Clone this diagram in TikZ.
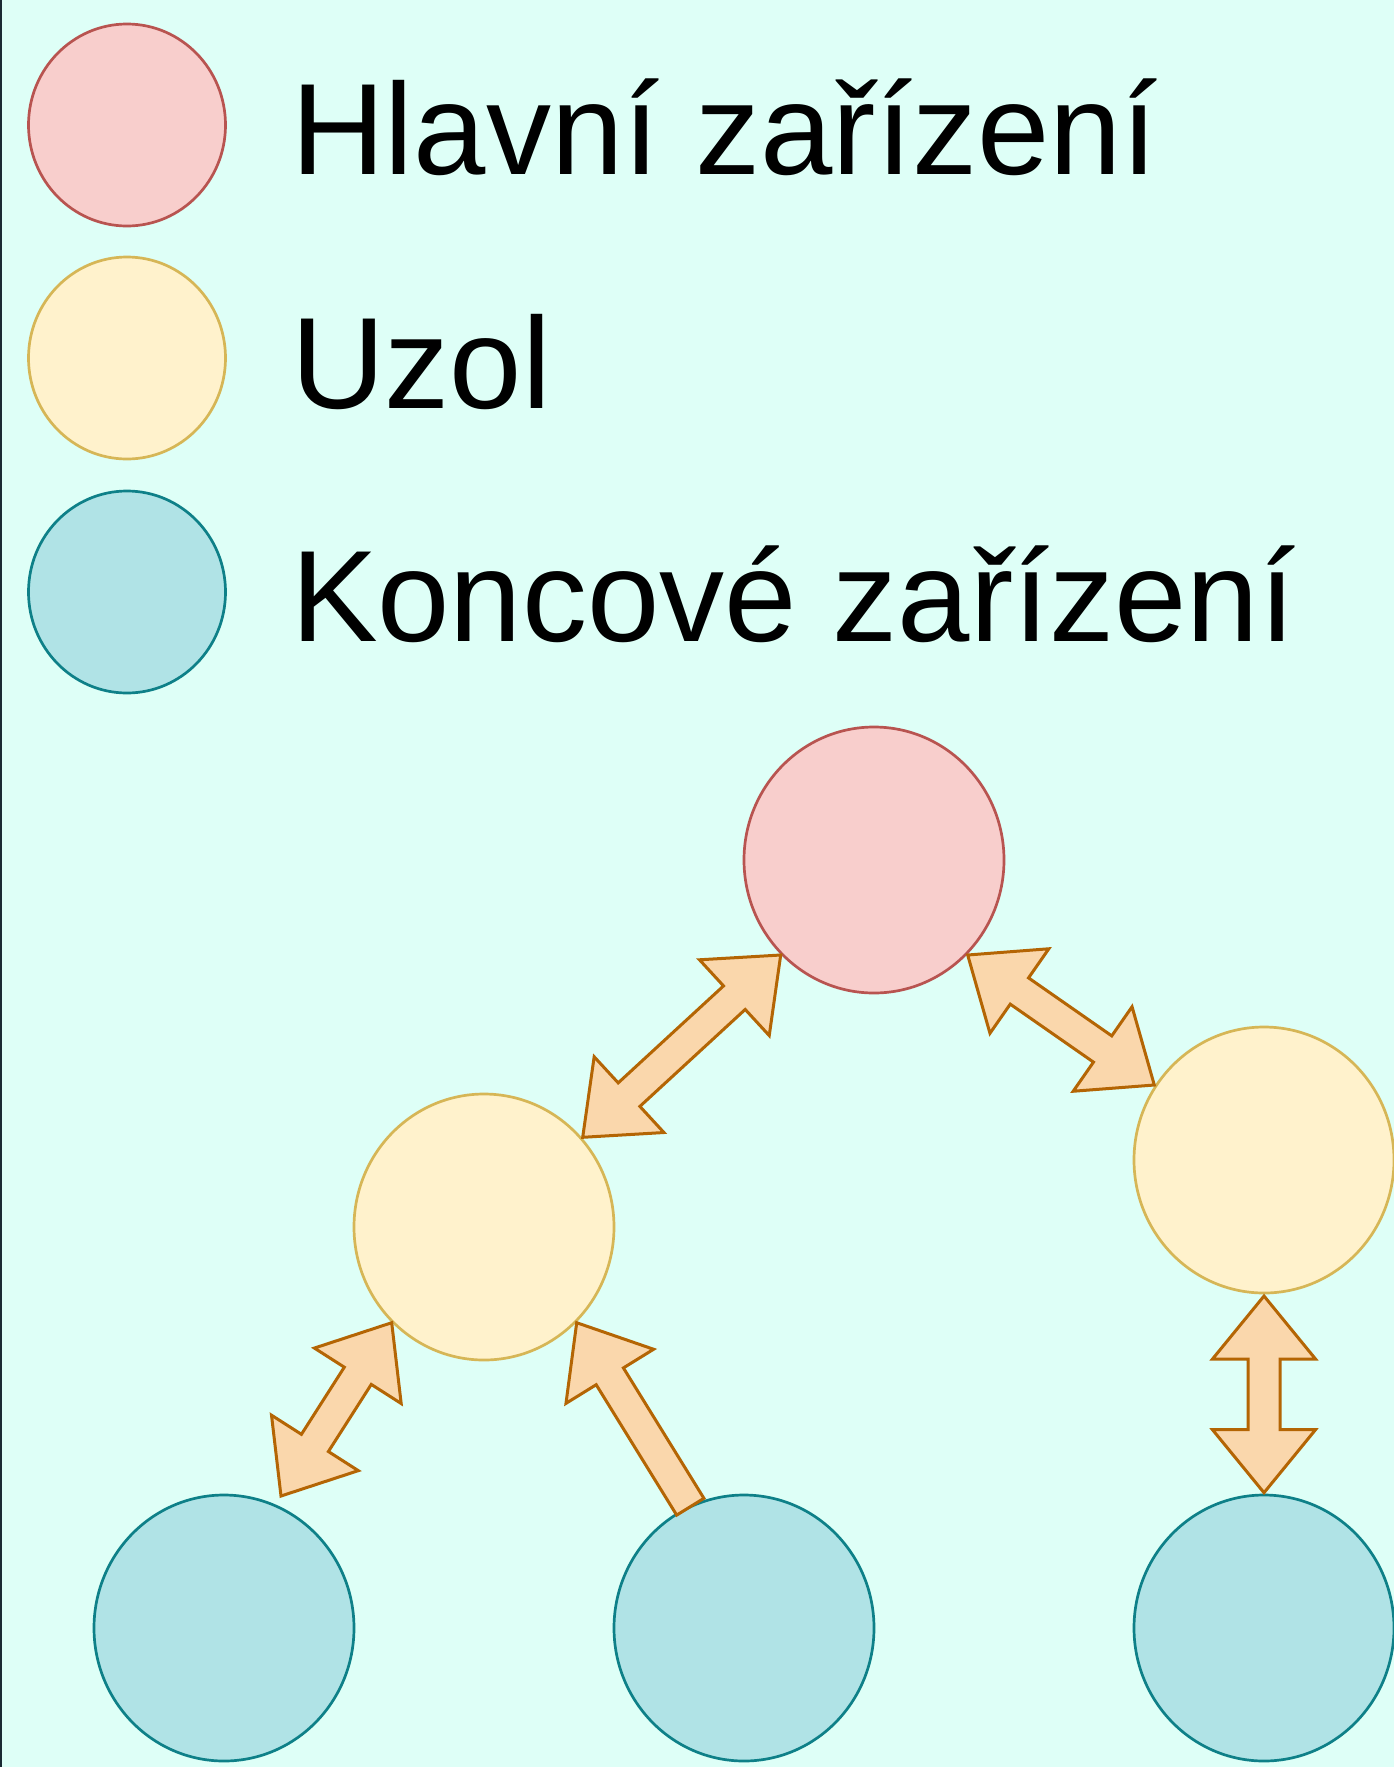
\documentclass[tikz,border=0pt]{standalone}
\usepackage{fontspec}
\setmainfont{Liberation Sans}
\usetikzlibrary{shapes.geometric,calc}
\definecolor{bgc}{HTML}{DEFFF7}
\definecolor{edgec}{HTML}{1A2A33}
\definecolor{redf}{HTML}{F8CECC}\definecolor{redd}{HTML}{B85450}
\definecolor{yelf}{HTML}{FFF2CC}\definecolor{yeld}{HTML}{D6B656}
\definecolor{tealf}{HTML}{B0E3E6}\definecolor{teald}{HTML}{0E8088}
\definecolor{arrf}{HTML}{FAD7AC}\definecolor{arrd}{HTML}{B46504}
\tikzset{
  dev/.style={shape=ellipse, inner sep=0pt, outer sep=0pt, line width=2.7pt, minimum width=260pt, minimum height=266pt},
  legdev/.style={shape=ellipse, inner sep=0pt, outer sep=0pt, line width=2.7pt, minimum width=197pt, minimum height=202pt},
  masterc/.style={fill=redf, draw=redd},
  nodec/.style={fill=yelf, draw=yeld},
  endc/.style={fill=tealf, draw=teald},
  legtext/.style={anchor=base west, inner sep=0pt, outer sep=0pt, font=\fontsize{130pt}{150pt}\selectfont},
  flex/.style={fill=arrf, draw=arrd, line width=3pt, line join=miter}
}
% double-headed flex arrow between coordinates #1 and #2
\newcommand{\flexboth}[2]{%
  \coordinate (pA) at ($(#1)!63pt!(#2)$);
  \coordinate (pB) at ($(#2)!63pt!(#1)$);
  \draw[flex] (#1) -- ($(pA)!51.5pt!90:(#2)$) -- ($(pA)!16pt!90:(#2)$)
    -- ($(pB)!16pt!-90:(#1)$) -- ($(pB)!51.5pt!-90:(#1)$) -- (#2)
    -- ($(pB)!51.5pt!90:(#1)$) -- ($(pB)!16pt!90:(#1)$)
    -- ($(pA)!16pt!-90:(#2)$) -- ($(pA)!51.5pt!-90:(#2)$) -- cycle;}
% single-headed flex arrow: tail #1, tip #2
\newcommand{\flexone}[2]{%
  \coordinate (pB) at ($(#2)!63pt!(#1)$);
  \draw[flex] ($(#1)!16pt!90:(#2)$) -- ($(pB)!16pt!-90:(#1)$) -- ($(pB)!51.5pt!-90:(#1)$) -- (#2)
    -- ($(pB)!51.5pt!90:(#1)$) -- ($(pB)!16pt!90:(#1)$) -- ($(#1)!16pt!-90:(#2)$) -- cycle;}
\begin{document}
\begin{tikzpicture}[x=1pt, y=-1pt]
\fill[bgc] (0,0) rectangle (1394,1767);
\useasboundingbox (0,0) rectangle (1394,1767);
\fill[edgec] (0,0) rectangle (2,1767);
% legend
\node[legdev, masterc] (L1) at (127,125) {};
\node[legdev, nodec] (L2) at (127,358) {};
\node[legdev, endc] (L3) at (127,592) {};
\node[legtext] (T1txt) at (291,174) {Hlavní zařízení};
\node[legtext] (T2txt) at (291,408) {Uzol};
\node[legtext] (T3txt) at (291,641) {Koncové zařízení};
% network
\node[dev, masterc] (R) at (874,860) {};
\node[dev, nodec] (Y1) at (484,1227) {};
\node[dev, nodec] (Y2) at (1264,1160) {};
\node[dev, endc] (E1) at (224,1628) {};
\node[dev, endc] (E2) at (744,1628) {};
\node[dev, endc] (E3) at (1264,1628) {};
% arrow end points
\coordinate (a1r) at ($(R.center)+(-93.3,95)$);
\coordinate (a1y) at ($(Y1.center)+(98.7,-89.7)$);
\coordinate (a2r) at ($(R.center)+(93.7,95)$);
\coordinate (a2y) at ($(Y2.center)+(-109.7,-75)$);
\coordinate (a3y) at ($(Y1.center)+(-92.3,95.7)$);
\coordinate (a3e) at ($(E1.center)+(57,-132)$);
\coordinate (a4y) at ($(Y1.center)+(92.7,95.7)$);
\coordinate (a4e) at ($(E2.center)+(-53.7,-121.3)$);
\coordinate (a5y) at ($(Y2.center)+(0,136)$);
\coordinate (a5e) at ($(E3.center)+(0,-135.3)$);
\flexboth{a1y}{a1r}
\flexboth{a2r}{a2y}
\flexboth{a3e}{a3y}
\flexone{a4e}{a4y}
\flexboth{a5y}{a5e}
\end{tikzpicture}
\end{document}
